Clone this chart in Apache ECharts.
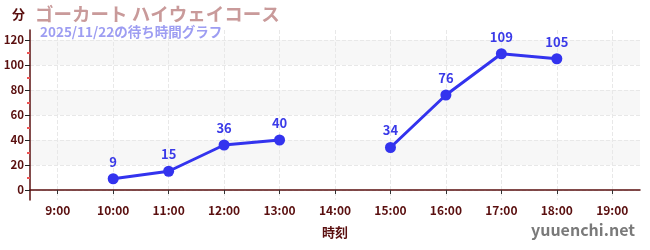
<!DOCTYPE html>
<html><head><meta charset="utf-8">
<script src="https://cdn.jsdelivr.net/npm/echarts@6/dist/echarts.min.js"></script>
<style>html,body{margin:0;padding:0;background:#fff}#c{width:650px;height:250px}</style>
</head><body><div id="c"></div>
<script>
const hours = [9, 10, 11, 12, 13, 14, 15, 16, 17, 18, 19];
const hourLabels = ['9:00','10:00','11:00','12:00','13:00','14:00','15:00','16:00','17:00','18:00','19:00'];
const waitTimes = [null, 9, 15, 36, 40, null, 34, 76, 109, 105, null];
const yTicks = [0, 20, 40, 60, 80, 100, 120];
const yMinorTicks = [10, 30, 50, 70, 90, 110];
const titleText = 'ゴーカート ハイウェイコース';
const subtitleText = '2025/11/22の待ち時間グラフ';

const font = '"Noto Sans CJK JP", "Noto Sans", sans-serif';
const axisColor = '#5a0f0f';
const blue = '#3333ee';

const seriesData = hours.map((h, i) => [h, waitTimes[i]]);

const chart = echarts.init(document.getElementById('c'));
chart.setOption({
  animation: false,
  textStyle: { fontFamily: font },
  title: [
    { text: titleText, left: 30, top: 0, textStyle: { color: '#c99a9a', fontSize: 18.5, fontWeight: 'bold', fontFamily: font } },
    { text: subtitleText, left: 35, top: 20, textStyle: { color: '#9d9df2', fontSize: 13.5, fontWeight: 'bold', fontFamily: font } }
  ],
  graphic: [
    { type: 'text', left: 12, top: 8, style: { text: '分', fill: axisColor, font: 'bold 13px ' + font } },
    { type: 'text', right: 15, top: 222, style: { text: 'yuuenchi.net', fill: '#7a7a7a', font: '600 16px ' + font } }
  ],
  grid: { left: 30, right: 10, top: 30, bottom: 50 },
  xAxis: {
    type: 'value', min: 8.5, max: 19.5,
    name: '時刻', nameLocation: 'middle', nameGap: 26,
    nameTextStyle: { color: axisColor, fontWeight: 'bold', fontSize: 13 },
    axisLine: { lineStyle: { color: axisColor, width: 1.5 } },
    axisTick: { show: true, customValues: hours, length: 4, lineStyle: { color: '#333' } },
    axisLabel: { customValues: hours, color: axisColor, fontWeight: 'bold', fontSize: 12, margin: 4,
      formatter: v => hourLabels[hours.indexOf(Math.round(v))] },
    splitLine: { show: true, lineStyle: { type: 'dashed', color: '#e8e8e8' } }
  },
  yAxis: [{
    type: 'value', min: -8, max: 128,
    axisLine: { show: true, lineStyle: { color: axisColor, width: 1.5 } },
    axisTick: { show: true, customValues: yTicks, length: 5, lineStyle: { color: '#222' } },
    axisLabel: { customValues: yTicks, color: axisColor, fontWeight: 'bold', fontSize: 11.5, margin: 6 },
    splitLine: { show: true, lineStyle: { type: 'dashed', color: '#e8e8e8' } },
    splitArea: { show: true, areaStyle: { color: ['rgba(255,255,255,0)', '#f7f7f7'] } }
  }, {
    type: 'value', min: -8, max: 128, position: 'left',
    axisLine: { show: false },
    axisTick: { show: true, customValues: yMinorTicks, length: 3, lineStyle: { color: '#ee5555', width: 2 } },
    axisLabel: { show: false, customValues: yMinorTicks },
    splitLine: { show: false }, splitArea: { show: false }
  }],
  series: [{
    type: 'line', data: seriesData, connectNulls: false,
    symbol: 'circle', symbolSize: 11,
    lineStyle: { color: blue, width: 3 },
    itemStyle: { color: blue },
    label: { show: true, position: 'top', distance: 5, color: '#3a3ae8', fontWeight: 'bold', fontSize: 13,
      formatter: p => p.value[1] }
  }]
});
</script></body></html>
